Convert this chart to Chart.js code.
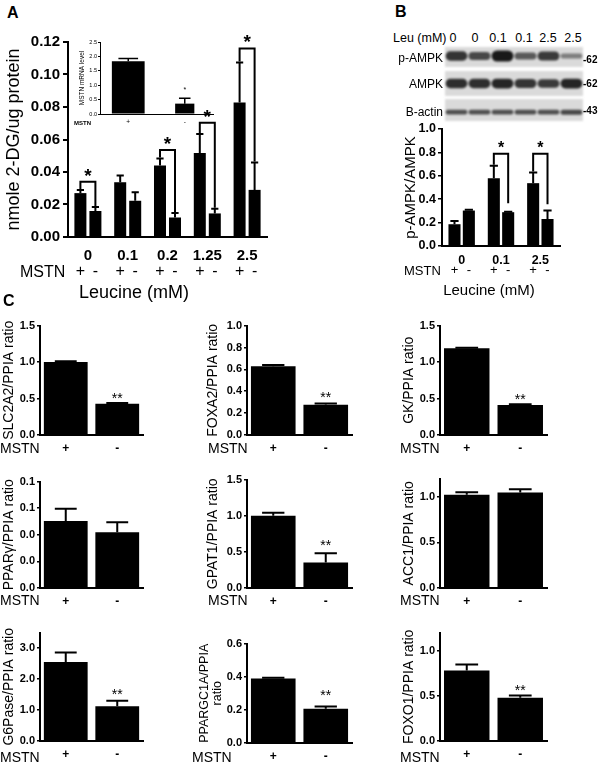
<!DOCTYPE html>
<html>
<head>
<meta charset="utf-8">
<script src="https://cdn.jsdelivr.net/npm/chart.js@4.4.0/dist/chart.umd.min.js"></script>
<style>
  body { margin: 0; background: #fff; font-family: "Liberation Sans", Arial, Helvetica, sans-serif; }
  #fig { position: relative; width: 600px; height: 763px; overflow: hidden; background: #fff; }
  .t { position: absolute; white-space: nowrap; color: #000; line-height: 1; }
  canvas { position: absolute; }
</style>
</head>
<body>
<div id="fig"></div>
<script>
const FONT = '"Liberation Sans", Arial, Helvetica, sans-serif';

// ---- Panel A: 2-DG uptake vs leucine
const leucineA = ['0', '0.1', '0.2', '1.25', '2.5'];
const uptakePlus = [0.027, 0.0337, 0.044, 0.0517, 0.0828];
const uptakePlusSem = [0.002, 0.0041, 0.0043, 0.0117, 0.0246];
const uptakeMinus = [0.016, 0.0223, 0.012, 0.0145, 0.029];
const uptakeMinusSem = [0.0024, 0.0053, 0.0027, 0.0029, 0.0168];
const uptakeSigGroups = [0, 2, 3, 4];
const uptakeSigTops = [0.034, 0.0536, 0.0703, 0.116];

// inset: MSTN mRNA
const insetGroups = ['+', '-'];
const mstnMrna = [1.83, 0.36];
const mstnMrnaSem = [0.1, 0.19];
const mstnMrnaStar = 0.89;

// ---- Panel B: western blot + p-AMPK/AMPK
const blotLanes = ['0', '0', '0.1', '0.1', '2.5', '2.5'];
const blotPAmpk = [0.8, 0.65, 1.0, 0.5, 0.75, 0.25];
const blotAmpk = [0.85, 0.85, 0.9, 0.8, 0.75, 0.9];
const blotActin = [0.6, 0.6, 0.6, 0.6, 0.6, 0.65];
const leucineB = ['0', '0.1', '2.5'];
const pampkPlus = [0.186, 0.58, 0.537];
const pampkPlusSem = [0.028, 0.106, 0.092];
const pampkMinus = [0.303, 0.289, 0.231];
const pampkMinusSem = [0.007, 0.004, 0.072];
const pampkSigGroups = [1, 2];
const pampkSigTops = [0.789, 0.789];
const pampkSigRight = [0.366, 0.357];

// ---- Panel C: gene expression, MSTN + / -
const mstnGroups = ['+', '-'];
const slc2a2 = [1.0, 0.43], slc2a2Sem = [0.01, 0.01];
const foxa2 = [0.628, 0.277], foxa2Sem = [0.012, 0.012];
const gk = [1.19, 0.41], gkSem = [0.006, 0.01];
const ppargamma = [0.0503, 0.042], ppargammaSem = [0.0092, 0.0075];
const gpat1 = [1.0, 0.354], gpat1Sem = [0.04, 0.126];
const acc1 = [1.022, 1.047], acc1Sem = [0.028, 0.037];
const g6pase = [2.55, 1.125], g6paseSem = [0.31, 0.175];
const ppargc1a = [0.39, 0.206], ppargc1aSem = [0.004, 0.014];
const foxo1 = [0.78, 0.48], foxo1Sem = [0.066, 0.025];

const fig = document.getElementById('fig');
Chart.defaults.font.family = FONT;
Chart.defaults.color = '#000';

function txt(s, x, y, size, opt) {
    opt = opt || {};
    const d = document.createElement('div');
    d.className = 't';
    d.textContent = s;
    d.style.fontSize = size + 'px';
    if (opt.bold) d.style.fontWeight = 'bold';
    const al = opt.align || 'left';
    const tx = al === 'center' ? '-50%' : al === 'right' ? '-100%' : '0';
    d.style.left = x + 'px';
    d.style.top = y + 'px';
    d.style.transform = `translate(${tx},-50%)`;
    fig.appendChild(d);
}

function addCanvas(left, top, w, h) {
    const c = document.createElement('canvas');
    c.width = Math.round(w);
    c.height = Math.round(h);
    c.style.left = left + 'px';
    c.style.top = top + 'px';
    c.style.width = c.width + 'px';
    c.style.height = c.height + 'px';
    fig.appendChild(c);
    return c;
}

function mark(ctx, text, x, y, size, bold) {
    ctx.font = `${bold ? 'bold ' : ''}${size}px ${FONT}`;
    ctx.textAlign = 'center';
    ctx.textBaseline = 'alphabetic';
    ctx.fillText(text, x, y + 0.57 * size);
}

// error bars, significance brackets, stars and +/- row
function annotPlugin(o) {
    return {
        id: 'annot',
        afterDatasetsDraw(chart) {
            const ctx = chart.ctx, ys = chart.scales.y, ca = chart.chartArea;
            const ds = chart.data.datasets;
            ctx.save();
            ctx.strokeStyle = '#000';
            ctx.fillStyle = '#000';
            ctx.lineWidth = o.lw;
            const errTop = (d, i) => ys.getPixelForValue(ds[d].data[i] + o.sem[d][i]);
            o.sem.forEach((arr, d) => {
                const meta = chart.getDatasetMeta(d);
                arr.forEach((s, i) => {
                    if (s == null) return;
                    const b = meta.data[i], yt = errTop(d, i), hw = b.width * o.cap;
                    ctx.beginPath();
                    ctx.moveTo(b.x, b.y);
                    ctx.lineTo(b.x, yt);
                    ctx.moveTo(b.x - hw, yt);
                    ctx.lineTo(b.x + hw, yt);
                    ctx.stroke();
                });
            });
            (o.groups || []).forEach((g, k) => {
                const p = chart.getDatasetMeta(0).data[g], m = chart.getDatasetMeta(1).data[g];
                const yt = ys.getPixelForValue(o.tops[k]);
                const yl = errTop(0, g) - o.gap;
                const yr = o.right ? ys.getPixelForValue(o.right[k]) : errTop(1, g) - o.gap;
                ctx.beginPath();
                ctx.moveTo(p.x, yl);
                ctx.lineTo(p.x, yt);
                ctx.lineTo(m.x, yt);
                ctx.lineTo(m.x, yr);
                ctx.stroke();
                mark(ctx, '*', (p.x + m.x) / 2, yt - o.starDy, o.starSize, true);
            });
            (o.marks || []).forEach(mk => {
                const b = chart.getDatasetMeta(mk.d).data[mk.i];
                mark(ctx, mk.text, b.x, ys.getPixelForValue(mk.v), o.markSize, false);
            });
            if (o.signDy) {
                ctx.font = `${o.signSize}px ${FONT}`;
                ctx.textAlign = 'center';
                ctx.textBaseline = 'middle';
                ds.forEach((dset, d) => {
                    chart.getDatasetMeta(d).data.forEach(b => {
                        ctx.fillText(dset.label, b.x, ca.bottom + o.signDy);
                    });
                });
            }
            ctx.restore();
        }
    };
}

// g: x0/x1 = plot left/right, yTop/yBot = pixel of max / zero, tcx = y-title centre
function barChart(g, data, a) {
    const tl = a.titleLH || 1.2;
    const left = Math.floor(g.tcx - tl * a.tSize / 2);
    const top = Math.floor(g.yTop - g.padTop);
    const yw = g.x0 - left;
    const padTop = g.yTop - top;
    const w = g.x1 - left + g.padRight;
    const h = g.yBot + g.xh - top;
    const c = addCanvas(left, top, w, h);
    return new Chart(c, {
        type: 'bar',
        data: data,
        plugins: [annotPlugin(a.annot)],
        options: {
            responsive: false,
            animation: false,
            events: [],
            layout: { padding: { left: 0, top: padTop, right: g.padRight, bottom: 0 } },
            plugins: { legend: { display: false }, tooltip: { enabled: false } },
            scales: {
                x: {
                    grid: { display: false, drawTicks: false },
                    border: { display: true, color: '#000', width: a.axisW },
                    ticks: { color: '#000', padding: a.xPad, font: a.xFont, maxRotation: 0, autoSkip: false },
                    afterFit(s) { s.height = g.xh; }
                },
                y: {
                    min: 0,
                    max: a.max,
                    grid: { display: true, drawOnChartArea: false, drawTicks: true, tickLength: a.tickLen, color: '#000', lineWidth: a.tickW },
                    border: { display: true, color: '#000', width: a.axisW },
                    ticks: { stepSize: a.step, includeBounds: false, color: '#000', padding: a.yPad, font: a.yFont,
                        callback: v => v.toFixed(a.dec) },
                    title: { display: true, text: a.title, color: '#000', padding: 0,
                        font: { size: a.tSize, lineHeight: tl } },
                    afterFit(s) { s.width = yw; }
                }
            }
        }
    });
}

// ---------- Panel A ----------
txt('A', 7, 13, 16, { bold: true });
barChart({ x0: 68, x1: 267, yTop: 42, yBot: 237, tcx: 14, padTop: 16, padRight: 8, xh: 46 }, {
    labels: leucineA,
    datasets: [
        { label: '+', data: uptakePlus, backgroundColor: '#000', categoryPercentage: 0.754, barPercentage: 0.8 },
        { label: '-', data: uptakeMinus, backgroundColor: '#000', categoryPercentage: 0.754, barPercentage: 0.8 }
    ]
}, {
    max: 0.12, step: 0.02, dec: 2, title: 'nmole 2-DG/ug protein', tSize: 18,
    yFont: { size: 15, weight: 'bold' }, xFont: { size: 15, weight: 'bold' }, xPad: 10, yPad: 3,
    tickLen: 5, tickW: 2, axisW: 2,
    annot: { sem: [uptakePlusSem, uptakeMinusSem], lw: 2, cap: 0.3, gap: 1,
        groups: uptakeSigGroups, tops: uptakeSigTops, starDy: 11, starSize: 19,
        signDy: 35, signSize: 16 }
});
txt('MSTN', 20, 272, 16);
txt('Leucine (mM)', 134, 292, 18, { align: 'center' });

// inset
barChart({ x0: 100, x1: 213, yTop: 42, yBot: 114, tcx: 82, padTop: 5, padRight: 4, xh: 14 }, {
    labels: insetGroups,
    datasets: [
        { label: '+', data: [mstnMrna[0], null], backgroundColor: '#000', grouped: false, categoryPercentage: 1, barPercentage: 0.58 },
        { label: '-', data: [null, mstnMrna[1]], backgroundColor: '#000', grouped: false, categoryPercentage: 1, barPercentage: 0.34 }
    ]
}, {
    max: 2.5, step: 0.5, dec: 1, title: 'MSTN mRNA level', tSize: 6.5,
    yFont: { size: 5.5 }, xFont: { size: 6.5 }, xPad: 4, yPad: 1,
    tickLen: 2, tickW: 1, axisW: 1,
    annot: { sem: [[mstnMrnaSem[0], null], [null, mstnMrnaSem[1]]], lw: 1.5, cap: 0.3,
        marks: [{ d: 1, i: 1, v: mstnMrnaStar, text: '*' }], markSize: 7 }
});
txt('MSTN', 74, 123, 6, { bold: true });

// ---------- Panel B ----------
txt('B', 395, 12, 16, { bold: true });
txt('Leu (mM)', 393, 38, 12.5);
[453, 475, 498, 524, 548, 573].forEach((x, i) => txt(blotLanes[i], x, 38, 12.5, { align: 'center' }));

function blotStrip(top, height, intens, thick, centre) {
    const c = addCanvas(445, top, 138, height);
    c.style.filter = 'blur(0.8px)';
    return new Chart(c, {
        type: 'bar',
        data: {
            labels: blotLanes,
            datasets: [{
                data: intens.map(v => [centre - (thick[0] + thick[1] * v), centre + (thick[0] + thick[1] * v)]),
                backgroundColor: intens.map(v => `rgba(15,15,15,${(0.3 + 0.65 * v).toFixed(2)})`),
                borderRadius: 8, borderSkipped: false,
                categoryPercentage: 0.95, barPercentage: 1
            }]
        },
        plugins: [{
            id: 'film',
            beforeDatasetsDraw(chart) {
                const ctx = chart.ctx;
                ctx.save();
                ctx.fillStyle = '#dadada';
                ctx.fillRect(0, 0, chart.width, chart.height);
                ctx.restore();
            }
        }],
        options: {
            responsive: false, animation: false, events: [],
            layout: { padding: 0 },
            plugins: { legend: { display: false }, tooltip: { enabled: false } },
            scales: { x: { display: false }, y: { display: false, min: -1, max: 1 } }
        }
    });
}
blotStrip(47, 20, blotPAmpk, [0.15, 0.4], 0.1);
blotStrip(71, 25, blotAmpk, [0.12, 0.3], 0.0);
blotStrip(99, 22, blotActin, [0.1, 0.2], -0.2);
txt('p-AMPK', 443, 58, 12, { align: 'right' });
txt('AMPK', 443, 84, 12, { align: 'right' });
txt('B-actin', 443, 112, 12, { align: 'right' });
txt('-62', 583, 60, 10, { bold: true });
txt('-62', 583, 84, 10, { bold: true });
txt('-43', 583, 111, 10, { bold: true });

barChart({ x0: 442, x1: 560, yTop: 129, yBot: 246, tcx: 411, padTop: 10, padRight: 6, xh: 32 }, {
    labels: leucineB,
    datasets: [
        { label: '+', data: pampkPlus, backgroundColor: '#000', categoryPercentage: 0.73, barPercentage: 0.84 },
        { label: '-', data: pampkMinus, backgroundColor: '#000', categoryPercentage: 0.73, barPercentage: 0.84 }
    ]
}, {
    max: 1.0, step: 0.2, dec: 1, title: 'p-AMPK/AMPK', tSize: 15,
    yFont: { size: 12.5, weight: 'bold' }, xFont: { size: 12.5, weight: 'bold' }, xPad: 7, yPad: 2,
    tickLen: 4, tickW: 1.5, axisW: 2,
    annot: { sem: [pampkPlusSem, pampkMinusSem], lw: 2, cap: 0.34, gap: 1,
        groups: pampkSigGroups, tops: pampkSigTops, right: pampkSigRight, starDy: 10, starSize: 16,
        signDy: 24, signSize: 13 }
});
txt('MSTN', 404, 270, 13);
txt('Leucine (mM)', 489, 289, 15, { align: 'center' });

// ---------- Panel C ----------
txt('C', 3, 301, 16, { bold: true });
const colX0 = [40, 247, 440], colX1 = [143, 352, 547], colTitleX = [10, 214, 410], colMstnX = [0, 208, 400];
const rowBot = [435, 588, 741], rowMstnY = [448, 600, 757];

function geneChart(col, row, yTop, yBot, vals, sem, a) {
    return barChart({ x0: colX0[col], x1: colX1[col], yTop: yTop, yBot: yBot, tcx: a.tcx || colTitleX[col],
        padTop: 8, padRight: 4, xh: 20 }, {
        labels: mstnGroups,
        datasets: [{ label: 'ratio', data: vals, backgroundColor: '#000', categoryPercentage: 1, barPercentage: 0.85 }]
    }, {
        max: a.max, step: a.step, dec: a.dec || 1, title: a.title, tSize: a.tSize || 14, titleLH: a.titleLH,
        yFont: { size: 11, weight: 'bold' }, xFont: { size: 12, weight: 'bold' }, xPad: 6, yPad: 2,
        tickLen: 3, tickW: 1.5, axisW: 2,
        annot: { sem: [sem], lw: 2, cap: 0.25,
            marks: a.star ? [{ d: 0, i: 1, v: a.star, text: '**' }] : [], markSize: 14 }
    });
}

geneChart(0, 0, 325, rowBot[0], slc2a2, slc2a2Sem, { max: 1.5, step: 0.5, title: 'SLC2A2/PPIA ratio', star: 0.545 });
geneChart(1, 0, 325, rowBot[0], foxa2, foxa2Sem, { max: 1.0, step: 0.2, title: 'FOXA2/PPIA ratio', star: 0.376 });
geneChart(2, 0, 325, rowBot[0], gk, gkSem, { max: 1.5, step: 0.5, title: 'GK/PPIA ratio', star: 0.54 });
geneChart(0, 1, 481, rowBot[1], ppargamma, ppargammaSem, { max: 0.08, step: 0.02, title: 'PPARγ/PPIA ratio' });
geneChart(1, 1, 479, rowBot[1], gpat1, gpat1Sem, { max: 1.5, step: 0.5, title: 'GPAT1/PPIA ratio', star: 0.633 });
geneChart(2, 1, 478, rowBot[1], acc1, acc1Sem, { max: 1.2, step: 0.5, title: 'ACC1/PPIA ratio' });
geneChart(0, 2, 632, rowBot[2], g6pase, g6paseSem, { max: 3.5, step: 1, title: 'G6Pase/PPIA ratio', star: 1.61 });
geneChart(1, 2, 643, 743, ppargc1a, ppargc1aSem, { max: 0.6, step: 0.2, title: ['PPARGC1A/PPIA', 'ratio'],
    tSize: 12.5, titleLH: 1.05, tcx: 205, star: 0.31 });
geneChart(2, 2, 632, rowBot[2], foxo1, foxo1Sem, { max: 1.2, step: 0.5, title: 'FOXO1/PPIA ratio', star: 0.597 });

for (let r = 0; r < 3; r++) {
    for (let c = 0; c < 3; c++) {
        const x = (r === 2 && c === 1) ? 192 : colMstnX[c];
        txt('MSTN', x, rowMstnY[r], 14);
    }
}
</script>
</body>
</html>
